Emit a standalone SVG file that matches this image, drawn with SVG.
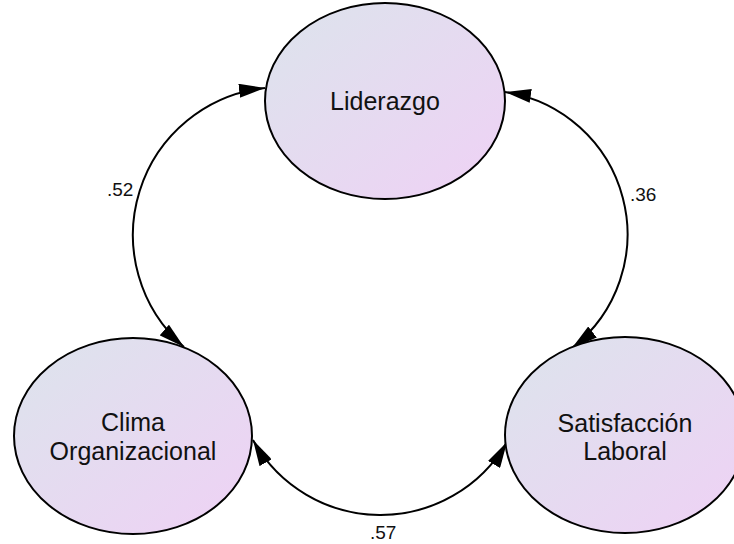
<svg xmlns="http://www.w3.org/2000/svg" width="734" height="544" viewBox="0 0 734 544">
  <defs>
    <linearGradient id="nodeFill" x1="0" y1="0" x2="1" y2="1">
      <stop offset="0" stop-color="#dce4ec"/>
      <stop offset="1" stop-color="#efd1f5"/>
    </linearGradient>
    <marker id="head" markerUnits="userSpaceOnUse" markerWidth="26" markerHeight="14" refX="26" refY="7" orient="auto-start-reverse" viewBox="0 0 26 14">
      <path d="M0,0 L26,7 L0,14 Z" fill="#000"/>
    </marker>
    <style>
      .node ellipse { fill: url(#nodeFill); stroke: #000; stroke-width: 2; }
      .node text { font-family: "Liberation Sans", Arial, sans-serif; font-size: 25px; fill: #111; text-anchor: middle; }
      .edge { fill: none; stroke: #000; stroke-width: 2; marker-start: url(#head); marker-end: url(#head); }
      .label { font-family: "Liberation Sans", Arial, sans-serif; font-size: 19px; fill: #111; }
    </style>
  </defs>

  <rect width="734" height="544" fill="#fff"/>

  <g id="connectors">
    <!-- Liderazgo <-> Clima Organizacional -->
    <path class="edge" d="M265,88 A148,148 0 0 0 184,347"/>
    <!-- Liderazgo <-> Satisfaccion Laboral -->
    <path class="edge" d="M505,92 A144,144 0 0 1 572,348"/>
    <!-- Clima Organizacional <-> Satisfaccion Laboral -->
    <path class="edge" d="M253,440 A146,146 0 0 0 507,442"/>
    <text class="label" x="107" y="196">.52</text>
    <text class="label" x="630" y="201">.36</text>
    <text class="label" x="370" y="539">.57</text>
  </g>

  <g id="liderazgo" class="node">
    <ellipse cx="385" cy="101" rx="120" ry="98"/>
    <text x="385" y="110">Liderazgo</text>
  </g>

  <g id="clima" class="node">
    <ellipse cx="133" cy="436" rx="119" ry="98"/>
    <text x="133" y="431">Clima</text>
    <text x="133" y="460">Organizacional</text>
  </g>

  <g id="satisfaccion" class="node">
    <ellipse cx="625" cy="435" rx="120" ry="98"/>
    <text x="625" y="432">Satisfacción</text>
    <text x="625" y="460">Laboral</text>
  </g>
</svg>
